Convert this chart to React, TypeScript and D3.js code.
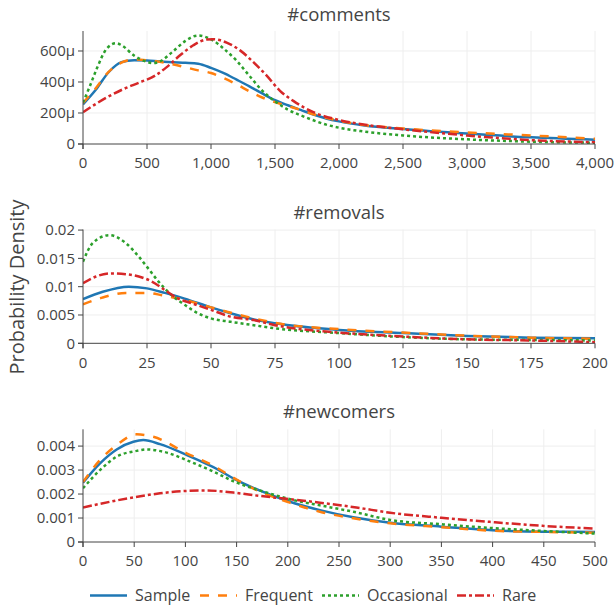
import * as d3 from 'd3'

// densidades; #comments em μ (×1e-6)
const SERIES = ['Sample', 'Frequent', 'Occasional', 'Rare']
const COLORS = ['#1f77b4', '#ff7f0e', '#2ca02c', '#d62728']
const DASHES = ['', '9,9', '3,3', '9,3,3,3']

const commentsSample = [[0, 256], [100, 350], [200, 463], [300, 528], [400, 541], [500, 539], [600, 533], [700, 528], [800, 524], [900, 518], [1000, 491], [1100, 457], [1200, 415], [1300, 372], [1400, 326], [1500, 283], [1600, 250], [1700, 220], [1800, 190], [1900, 165], [2000, 146], [2200, 120], [2500, 97], [3000, 67], [3500, 43], [4000, 28]]
const commentsFrequent = [[0, 265], [100, 360], [200, 465], [300, 525], [400, 545], [500, 540], [600, 530], [700, 515], [800, 495], [900, 475], [1000, 458], [1100, 425], [1200, 385], [1300, 340], [1400, 300], [1500, 270], [1600, 245], [1700, 220], [1800, 192], [2000, 150], [2200, 122], [2500, 100], [3000, 75], [3500, 55], [4000, 34]]
const commentsOccasional = [[0, 267], [55, 376], [107, 485], [185, 615], [258, 650], [300, 638], [400, 570], [500, 530], [550, 522], [600, 532], [700, 595], [800, 665], [900, 700], [1000, 675], [1100, 615], [1200, 537], [1300, 440], [1400, 345], [1500, 275], [1600, 222], [1700, 185], [1800, 153], [1900, 125], [2000, 105], [2200, 80], [2500, 55], [3000, 30], [3500, 15], [4000, 8]]
const commentsRare = [[0, 205], [185, 300], [315, 354], [445, 398], [563, 441], [654, 496], [758, 572], [862, 637], [966, 674], [1018, 676], [1122, 654], [1227, 604], [1331, 528], [1435, 441], [1539, 343], [1643, 278], [1800, 205], [2000, 155], [2200, 125], [2500, 95], [3000, 55], [3500, 25], [4000, 12]]

const removalsSample = [[0, 0.0078], [7.7, 0.0091], [17.9, 0.01], [25, 0.0097], [32, 0.0089], [39.7, 0.0079], [50, 0.00635], [57.7, 0.0053], [66.7, 0.0042], [75, 0.00353], [100, 0.00235], [125, 0.0018], [150, 0.0013], [175, 0.001], [200, 0.0009]]
const removalsFrequent = [[0, 0.0069], [7.7, 0.0081], [16.7, 0.0089], [25, 0.0089], [30.8, 0.0085], [39.7, 0.00765], [50, 0.00635], [57.7, 0.0054], [66.7, 0.0044], [75, 0.0036], [100, 0.0025], [125, 0.0019], [150, 0.00135], [175, 0.001], [200, 0.0008]]
const removalsOccasional = [[0, 0.0144], [3.8, 0.0177], [10.3, 0.0191], [16.7, 0.0177], [21.8, 0.0153], [25, 0.0135], [29.5, 0.0109], [34.6, 0.0085], [39.7, 0.0068], [44.9, 0.0053], [50, 0.0044], [57.7, 0.0038], [66.7, 0.0032], [75, 0.00265], [100, 0.0018], [125, 0.0011], [150, 0.0007], [175, 0.0006], [200, 0.0005]]
const removalsRare = [[0, 0.0106], [5.1, 0.0118], [11.5, 0.01235], [16.7, 0.0122], [21.8, 0.0118], [26.9, 0.0109], [32, 0.0094], [37.2, 0.0079], [42.3, 0.0071], [50, 0.0059], [57.7, 0.0047], [66.7, 0.0041], [75, 0.0032], [100, 0.0019], [125, 0.0012], [150, 0.0007], [175, 0.0005], [200, 0.0002]]

const newcomersSample = [[0, 0.00247], [16.6, 0.00328], [32.9, 0.00386], [49.2, 0.00418], [58.9, 0.00425], [75.2, 0.00408], [101.2, 0.00363], [127.3, 0.00312], [150, 0.00258], [172.9, 0.00214], [202, 0.00168], [231.4, 0.00133], [264, 0.00103], [300, 0.0008], [350, 0.00064], [400, 0.00049], [450, 0.00043], [500, 0.00042]]
const newcomersFrequent = [[0, 0.0025], [16.6, 0.00342], [32.9, 0.00404], [52.4, 0.00449], [68.7, 0.00439], [101.2, 0.0037], [127.3, 0.00318], [150, 0.0026], [172.9, 0.0021], [202, 0.00164], [231.4, 0.00126], [264, 0.00099], [300, 0.00078], [350, 0.00062], [400, 0.00047], [450, 0.00042], [500, 0.00039]]
const newcomersOccasional = [[0, 0.00224], [16.6, 0.003], [32.9, 0.00356], [52.4, 0.0038], [62, 0.00386], [78.8, 0.00376], [104.8, 0.00335], [127.6, 0.00293], [147.1, 0.00253], [176.4, 0.0021], [202.4, 0.00178], [235, 0.0015], [264.3, 0.00126], [300, 0.00092], [350, 0.00074], [400, 0.00058], [450, 0.00046], [500, 0.00035]]
const newcomersRare = [[0, 0.00144], [49.2, 0.00186], [75.2, 0.00203], [101.3, 0.00213], [120.8, 0.00215], [146.8, 0.00206], [172.9, 0.00192], [198.9, 0.0018], [231.4, 0.00164], [267, 0.00144], [300, 0.00122], [350, 0.00101], [400, 0.00083], [450, 0.00067], [500, 0.00056]]

const commentsXTicks = [0, 500, 1000, 1500, 2000, 2500, 3000, 3500, 4000]
const commentsYTicks = [0, 200, 400, 600]
const removalsXTicks = [0, 25, 50, 75, 100, 125, 150, 175, 200]
const removalsYTicks = [0, 0.005, 0.01, 0.015, 0.02]
const newcomersXTicks = [0, 50, 100, 150, 200, 250, 300, 350, 400, 450, 500]
const newcomersYTicks = [0, 0.001, 0.002, 0.003, 0.004]

const FONT = '"Open Sans", sans-serif'
const INK = '#444'
const W = 616, H = 605
const L = 83, R = 595

const panels = [
  { title: '#comments', titleY: 15, top: 31, bottom: 144, xMax: 4000, yMax: 729, xTicks: commentsXTicks, yTicks: commentsYTicks,
    xFmt: d3.format(','), yFmt: (d: number) => (d === 0 ? '0' : `${d}μ`),
    data: [commentsSample, commentsFrequent, commentsOccasional, commentsRare] },
  { title: '#removals', titleY: 213, top: 229.5, bottom: 343.3, xMax: 200, yMax: 0.0201, xTicks: removalsXTicks, yTicks: removalsYTicks,
    xFmt: d3.format('d'), yFmt: (d: number) => `${+d.toFixed(4)}`,
    data: [removalsSample, removalsFrequent, removalsOccasional, removalsRare] },
  { title: '#newcomers', titleY: 412, top: 429.3, bottom: 542, xMax: 500, yMax: 0.0047, xTicks: newcomersXTicks, yTicks: newcomersYTicks,
    xFmt: d3.format('d'), yFmt: (d: number) => `${+d.toFixed(4)}`,
    data: [newcomersSample, newcomersFrequent, newcomersOccasional, newcomersRare] },
]

const legendX = [90, 200, 322, 457]

function Panel({ p, idx }: { p: any; idx: number }) {
  const x = d3.scaleLinear().domain([0, p.xMax]).range([L, R])
  const y = d3.scaleLinear().domain([0, p.yMax]).range([p.bottom, p.top])
  const line = d3.line<number[]>().x(d => x(d[0])).y(d => y(d[1])).curve(d3.curveMonotoneX)
  const clipId = `clip-${idx}`
  return (
    <g>
      <defs>
        <clipPath id={clipId}>
          <rect x={L} y={p.top} width={R - L} height={p.bottom - p.top} />
        </clipPath>
      </defs>
      <text x={(L + R) / 2} y={p.titleY} dy="0.35em" textAnchor="middle" fontSize={18.5} fill={INK}>{p.title}</text>
      {p.xTicks.filter((t: number) => t > 0).map((t: number) => (
        <line key={'gx' + t} x1={x(t)} x2={x(t)} y1={p.top} y2={p.bottom} stroke="#eee" />
      ))}
      {p.yTicks.filter((t: number) => t > 0).map((t: number) => (
        <line key={'gy' + t} x1={L} x2={R} y1={y(t)} y2={y(t)} stroke="#eee" />
      ))}
      <g clipPath={`url(#${clipId})`}>
        {p.data.map((s: number[][], i: number) => (
          <path key={i} d={line(s) || ''} fill="none" stroke={COLORS[i]} strokeWidth={2.5}
            strokeDasharray={DASHES[i] || undefined} />
        ))}
      </g>
      <line x1={L} x2={L} y1={p.top} y2={p.bottom + 5} stroke={INK} />
      <line x1={L - 5} x2={R} y1={p.bottom} y2={p.bottom} stroke={INK} />
      {p.xTicks.map((t: number) => (
        <g key={'tx' + t}>
          <line x1={x(t)} x2={x(t)} y1={p.bottom} y2={p.bottom + 5} stroke={INK} />
          <text x={x(t)} y={p.bottom + 19} dy="0.35em" textAnchor="middle" fontSize={15} fill={INK}>{p.xFmt(t)}</text>
        </g>
      ))}
      {p.yTicks.map((t: number) => (
        <g key={'ty' + t}>
          <line x1={L - 5} x2={L} y1={y(t)} y2={y(t)} stroke={INK} />
          <text x={L - 8} y={y(t)} dy="0.35em" textAnchor="end" fontSize={15} fill={INK}>{p.yFmt(t)}</text>
        </g>
      ))}
    </g>
  )
}

export default function App() {
  return (
    <svg width={W} height={H} style={{ position: 'absolute', left: 0, top: 0, background: '#fff' }} fontFamily={FONT}>
      {panels.map((p, i) => <Panel key={p.title} p={p} idx={i} />)}
      <text transform="translate(17,287) rotate(-90)" dy="0.35em" textAnchor="middle" fontSize={20} fill={INK}>Probability Density</text>
      {SERIES.map((s, i) => (
        <g key={s} transform={`translate(${legendX[i]},595.5)`}>
          <line x1={0} x2={37} y1={0} y2={0} stroke={COLORS[i]} strokeWidth={2.5} strokeDasharray={DASHES[i] || undefined} />
          <text x={45} y={0} dy="0.35em" fontSize={16} fill={INK}>{s}</text>
        </g>
      ))}
    </svg>
  )
}
